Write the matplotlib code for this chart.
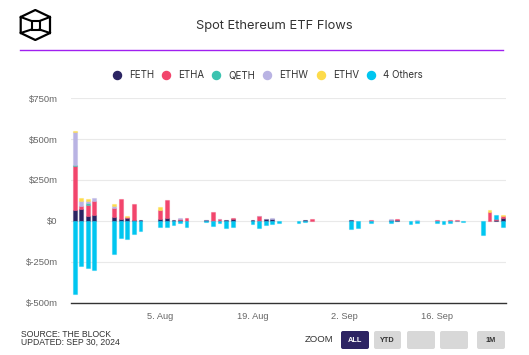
import numpy as np
import matplotlib
matplotlib.use('Agg')
import matplotlib.pyplot as plt
from matplotlib.patches import FancyBboxPatch, Polygon
from matplotlib.colors import to_rgba

# ---------------- data (USD millions) ----------------
dates = ['2024-07-23', '2024-07-24', '2024-07-25', '2024-07-26',
         '2024-07-29', '2024-07-30', '2024-07-31', '2024-08-01', '2024-08-02',
         '2024-08-05', '2024-08-06', '2024-08-07', '2024-08-08', '2024-08-09',
         '2024-08-12', '2024-08-13', '2024-08-14', '2024-08-15', '2024-08-16',
         '2024-08-19', '2024-08-20', '2024-08-21', '2024-08-22', '2024-08-23',
         '2024-08-26', '2024-08-27', '2024-08-28', '2024-08-29', '2024-08-30',
         '2024-09-03', '2024-09-04', '2024-09-05', '2024-09-06',
         '2024-09-09', '2024-09-10', '2024-09-11', '2024-09-12', '2024-09-13',
         '2024-09-16', '2024-09-17', '2024-09-18', '2024-09-19', '2024-09-20',
         '2024-09-23', '2024-09-24', '2024-09-25', '2024-09-26']

feth = [67, 75, 28, 35,
        24, 12, 20, 8, 4,
        14, 20, 6, 3, 0,
        4, 0, 0, 3, 10,
        3, 0, 10, 14, 0,
        0, 3, 0, 0, 0,
        3, 0, 0, 0,
        8, 3, 0, 0, 0,
        0, 0, 0, 0, 0,
        0, 0, 3, 16]
etha = [268, 14, 71, 87,
        53, 122, 4, 94, 0,
        50, 110, 0, 8, 20,
        0, 54, 10, 0, 8,
        0, 28, 0, 0, 0,
        0, 0, 9, 0, 0,
        0, 0, 0, 5,
        0, 6, 0, 0, 0,
        5, 0, 5, 5, 0,
        0, 57, 8, 12]
qeth = [8, 0, 10, 0,
        0, 0, 0, 0, 0,
        0, 0, 0, 0, 0,
        0, 0, 0, 0, 0,
        0, 0, 0, 0, 0,
        0, 0, 0, 0, 0,
        0, 0, 0, 0,
        0, 0, 0, 0, 0,
        0, 0, 0, 0, 0,
        0, 0, 0, 0]
ethw = [201, 33, 12, 18,
        12, 0, 0, 0, 0,
        3, 0, 0, 4, 0,
        2, 0, 4, 0, 0,
        0, 4, 4, 4, 0,
        0, 0, 0, 0, 0,
        0, 0, 0, 0,
        3, 0, 0, 0, 4,
        0, 0, 0, 0, 0,
        0, 0, 0, 0]
ethv = [8, 18, 12, 0,
        12, 0, 4, 0, 0,
        16, 0, 0, 0, 0,
        0, 0, 0, 0, 0,
        0, 0, 0, 0, 0,
        0, 0, 0, 0, 0,
        0, 0, 0, 0,
        0, 0, 0, 0, 0,
        0, 0, 0, 0, 0,
        0, 8, 0, 6]
others = [-451, -277, -287, -303,
          -205, -106, -112, -79, -61,
          -39, -35, -27, -15, -40,
          -6, -29, -16, -46, -35,
          -19, -42, -28, -20, -12,
          -16, -8, 0, 0, 0,
          -52, -41, 0, -16,
          -16, -3, 0, -20, -12,
          -16, -20, -16, -3, -5,
          -85, 0, 24, -35]

series_names = ['FETH', 'ETHA', 'QETH', 'ETHW', 'ETHV', '4 Others']
series_colors = ['#2b2462', '#f2456c', '#3cc3b0', '#b9b3e3', '#fddb4a', '#00c6f0']
series_values = [feth, etha, qeth, ethw, ethv, others]

yticks = [-500, -250, 0, 250, 500, 750]
ytick_labels = ['$-500m', '$-250m', '$0', '$250m', '$500m', '$750m']
xtick_dates = ['2024-08-05', '2024-08-19', '2024-09-02', '2024-09-16']
xtick_labels = ['5. Aug', '19. Aug', '2. Sep', '16. Sep']

# ---------------- figure ----------------
W, H = 529, 355
fig = plt.figure(figsize=(W / 100, H / 100), dpi=100)
fig.patch.set_facecolor('white')

def fx(x):
    return x / W

def fy(y):
    return 1 - y / H

start = np.datetime64('2024-07-23')
x = (np.array(dates, dtype='datetime64[D]') - start).astype(int)
xt = (np.array(xtick_dates, dtype='datetime64[D]') - start).astype(int)

ax = fig.add_axes([fx(71), fy(302.5), fx(506) - fx(71), fy(98.3) - fy(302.5)])
ax.set_xlim(-0.55, 65.5)
ax.set_ylim(-500, 750)

pos_base = np.zeros(len(x))
neg_base = np.zeros(len(x))
for vals, col in zip(series_values, series_colors):
    v = np.array(vals, dtype=float)
    p = np.where(v > 0, v, 0.0)
    q = np.where(v < 0, v, 0.0)
    mp = p > 0
    mq = q < 0
    ec = to_rgba(col, 0.4)
    if mp.any():
        ax.bar(x[mp], p[mp], bottom=pos_base[mp], width=0.58, color=col,
               edgecolor=ec, linewidth=0.8, zorder=3)
    if mq.any():
        ax.bar(x[mq], q[mq], bottom=neg_base[mq], width=0.58, color=col,
               edgecolor=ec, linewidth=0.8, zorder=3)
    pos_base += p
    neg_base += q

ax.set_yticks(yticks)
ax.set_yticklabels(ytick_labels, fontfamily='Liberation Sans', fontsize=6.8, color='#666666')
ax.set_xticks(xt)
ax.set_xticklabels(xtick_labels, fontfamily='Liberation Sans', fontsize=6.7, color='#666666')
ax.tick_params(axis='y', length=0, pad=9.5)
ax.tick_params(axis='x', length=0, pad=7)
ax.grid(axis='y', color='#e9e9e9', linewidth=0.8, zorder=0)
for s in ['left', 'right', 'top']:
    ax.spines[s].set_visible(False)
ax.spines['bottom'].set_color('#333333')
ax.spines['bottom'].set_linewidth(1.0)
ax.set_axisbelow(True)

# ---------------- overlay in pixel coordinates ----------------
ov = fig.add_axes([0, 0, 1, 1], facecolor='none')
ov.set_xlim(0, W)
ov.set_ylim(H, 0)
ov.axis('off')

# logo
hexv = [(35.3, 10), (50, 17), (50, 33), (35.3, 40), (20.7, 33), (20.7, 17)]
ov.add_patch(Polygon(hexv, closed=True, fill=False, edgecolor='black', linewidth=1.6, joinstyle='round'))
sq = [(31.5, 21), (39.5, 21), (39.5, 29.5), (31.5, 29.5)]
ov.add_patch(Polygon(sq, closed=True, fill=False, edgecolor='black', linewidth=1.5))
for (a, b) in [((20.7, 17), (31.5, 21)), ((50, 17), (39.5, 21)),
               ((20.7, 33), (31.5, 29.5)), ((50, 33), (39.5, 29.5))]:
    ov.plot([a[0], b[0]], [a[1], b[1]], color='black', linewidth=1.5)

# title
ov.text(274.5, 26, 'Spot Ethereum ETF Flows', ha='center', va='center',
        fontfamily='Inter', fontsize=9.3, color='#333333')
ov.plot([20, 503], [50, 50], color='#a020f0', linewidth=1.0)

# legend
legend_dot_x = [116.7, 166, 216, 266.7, 321, 370.7]
legend_txt_x = [129, 178.3, 228.3, 279.3, 332.7, 383.3]
for name, col, dx, tx in zip(series_names, series_colors, legend_dot_x, legend_txt_x):
    ov.plot([dx], [75], marker='o', markersize=5.8, color=col, linestyle='none')
    ov.text(tx, 75.5, name, ha='left', va='center', fontfamily='Inter',
            fontsize=7, color='#333333')

# footer
ov.text(21, 334.5, 'SOURCE: THE BLOCK', ha='left', va='center',
        fontfamily='Liberation Sans', fontsize=6.2, color='#333333')
ov.text(21, 342.5, 'UPDATED: SEP 30, 2024', ha='left', va='center',
        fontfamily='Liberation Sans', fontsize=6.2, color='#333333')

# zoom buttons
ov.text(305, 340, 'ZOOM', ha='left', va='center', fontfamily='Liberation Sans',
        fontsize=6.8, color='#333333')
buttons = [(341, 369, 'ALL', '#2d2463', 'white'),
           (374, 401, 'YTD', '#d8d8d8', '#333333'),
           (407, 435, '', '#d8d8d8', '#333333'),
           (440, 468, '', '#d8d8d8', '#333333'),
           (477, 505, '1M', '#d8d8d8', '#333333')]
for x0, x1, lab, fc, tc in buttons:
    ov.add_patch(FancyBboxPatch((x0, 331), x1 - x0, 18,
                                boxstyle='round,pad=0,rounding_size=2',
                                facecolor=fc, edgecolor='none'))
    if lab:
        ov.text((x0 + x1) / 2, 340.5, lab, ha='center', va='center',
                fontfamily='Liberation Sans', fontsize=5.3, fontweight='bold', color=tc)

fig.savefig('out.png', dpi=100, facecolor='white')
